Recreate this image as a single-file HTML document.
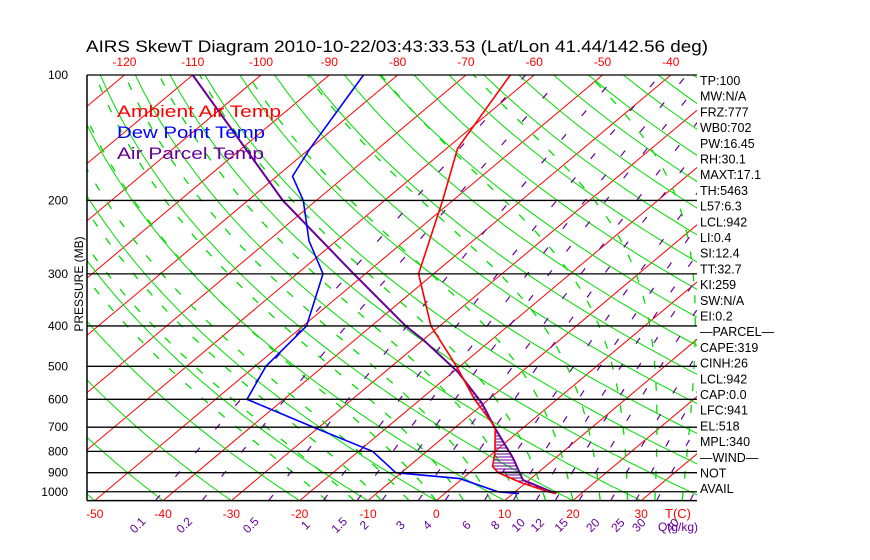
<!DOCTYPE html>
<html><head><meta charset="utf-8"><style>
html,body{margin:0;padding:0;background:#fff;}
svg{display:block;font-family:"Liberation Sans",sans-serif;}
</style></head><body>
<svg id="chart" width="870" height="560" viewBox="0 0 870 560" xmlns="http://www.w3.org/2000/svg">
<defs><clipPath id="plotclip"><rect x="87" y="75" width="610" height="426"/></clipPath></defs>
<rect x="0" y="0" width="870" height="560" fill="#fff"/>
<text x="86" y="52" font-size="17" textLength="622" lengthAdjust="spacingAndGlyphs" fill="#000">AIRS SkewT Diagram 2010-10-22/03:43:33.53 (Lat/Lon 41.44/142.56 deg)</text>
<g id="grid" clip-path="url(#plotclip)"></g>
<g id="marks" clip-path="url(#plotclip)"></g>
<g id="axes"></g>
<text transform="translate(83,284) rotate(-90)" text-anchor="middle" font-size="12" fill="#000">PRESSURE (MB)</text>
<g font-size="17">
<text x="117" y="117" fill="#ff0000" textLength="164" lengthAdjust="spacingAndGlyphs">Ambient Air Temp</text>
<text x="117" y="138" fill="#0000ff" textLength="148" lengthAdjust="spacingAndGlyphs">Dew Point Temp</text>
<text x="117" y="159" fill="#660099" textLength="147" lengthAdjust="spacingAndGlyphs">Air Parcel Temp</text>
</g>
<g id="indices" font-size="12.5" fill="#000"></g>
</svg>
<script>
// ---- data ----
const tempP = [1010,1000,950,900,870,800,700,600,500,400,300,200,150,100];
const tempT = [16.3,14.9,9.2,4.2,2.3,0.0,-4.2,-12.1,-20.5,-31.3,-42.2,-51.5,-58.4,-63.5];
const dewP = [1010,1000,930,900,800,700,600,500,400,300,250,200,175,150,100];
const dewT = [10.9,7.5,-0.4,-10.8,-17.9,-30.8,-45.4,-48.4,-49.5,-56.2,-64,-71.9,-77.7,-80,-85];
const parcelP = [1010,937,830,703,612,516,432,400,300,200,100];
const parcelT = [16.3,9.1,3.8,-4.1,-10.4,-19.3,-30.0,-35.0,-51.7,-74.9,-110];
const pressureTicks = [100,200,300,400,500,600,700,800,900,1000];
const topTempTicks = [-120,-110,-100,-90,-80,-70,-60,-50,-40];
const bottomTempTicks = [-50,-40,-30,-20,-10,0,10,20,30];
const mixRatios = [0.1,0.2,0.5,1,1.5,2,3,4,6,8,10,12,15,20,25,30,40];
const mixLabels = ["0.1","0.2","0.5","1","1.5","2","3","4","6","8","10","12","15","20","25","30","40"];
const indexLabels = ["TP:100","MW:N/A","FRZ:777","WB0:702","PW:16.45","RH:30.1","MAXT:17.1","TH:5463","L57:6.3","LCL:942","LI:0.4","SI:12.4","TT:32.7","KI:259","SW:N/A","EI:0.2","\u2014PARCEL\u2014","CAPE:319","CINH:26","LCL:942","CAP:0.0","LFC:941","EL:518","MPL:340","\u2014WIND\u2014","NOT","AVAIL"];

// ---- axes ----
const NS="http://www.w3.org/2000/svg";
const PBOT=1050, PTOP=100;
function yP(p){return 75+181*Math.log(p/100);}
function xT(T,p){return 437+6.83*T+1.193*(500-yP(p));}
function mk(tag,attrs,parent){const e=document.createElementNS(NS,tag);for(const k in attrs)e.setAttribute(k,attrs[k]);parent.appendChild(e);return e;}
const grid=document.getElementById('grid'), marks=document.getElementById('marks'), axes=document.getElementById('axes'), idx=document.getElementById('indices');
function pathFrom(pts){return pts.map((q,i)=>(i?'L':'M')+q[0].toFixed(1)+' '+q[1].toFixed(1)).join(' ');}

// isotherms
for(let T=-160;T<=50;T+=10){
  const el=mk('line',{x1:xT(T,PBOT),y1:yP(PBOT),x2:xT(T,PTOP),y2:yP(PTOP),stroke:'#ff0000','stroke-width':1},grid);
  
  
}
// dry adiabats
for(let th=-60;th<=200;th+=10){
  const theta=th+273.15, pts=[];
  for(let p=PBOT;p>=PTOP;p-=10){const T=theta*Math.pow(p/PBOT,0.286)-273.15;pts.push([xT(T,p),yP(p)]);}
  const el=mk('path',{d:pathFrom(pts),fill:'none',stroke:'#00dd00','stroke-width':1},grid);
  
  
}
// moist adiabats
function es(T){return 6.112*Math.exp(17.67*T/(T+243.5));}
for(let T0=-16;T0<=36;T0+=4){
  let T=T0+273.15; const pts=[];
  for(let p=PBOT;p>=PTOP;p-=5){
    pts.push([xT(T-273.15,p),yP(p)]);
    const e=es(T-273.15), rs=0.622*e/(p-e);
    const g=(287*T/p)*(1+2.5e6*rs/(287*T))/(1004+2.5e6*2.5e6*rs*0.622/(287*T*T));
    T-=g*5;
  }
  const el=mk('path',{d:pathFrom(pts),fill:'none',stroke:'#00dd00','stroke-width':1.3,'stroke-dasharray':'8 14'},grid);
  
  
}
// mixing ratio lines
function tdFromW(w,p){const e=w*p/(622+w);const l=Math.log(e/6.112);return 243.5*l/(17.67-l);}
mixRatios.forEach((w,i)=>{
  const pts=[];for(let p=PBOT;p>=PTOP;p-=10)pts.push([xT(tdFromW(w,p),p),yP(p)]);
  const el=mk('path',{d:pathFrom(pts),fill:'none',stroke:'#660099','stroke-width':1.2,'stroke-dasharray':'7 24'},grid);
  
  
  const x=xT(tdFromW(w,PBOT),PBOT)-15;
  const t=mk('text',{x:0,y:0,transform:`translate(${x.toFixed(1)},528) rotate(-45)`,'font-size':12,fill:'#660099','text-anchor':'middle'},axes);
  t.textContent=mixLabels[i];
  
  
});
// pressure lines
pressureTicks.forEach(p=>{
  const y=yP(p);
  const l=mk('line',{x1:87,y1:y,x2:697,y2:y,stroke:'#000','stroke-width':1.3},axes);
  
  
  const t=mk('text',{x:68,y:y+4,'text-anchor':'end','font-size':12,fill:'#000'},axes);
  t.textContent=p;
  
  
});
const bl=mk('line',{x1:87,y1:yP(PBOT),x2:697,y2:yP(PBOT),stroke:'#000','stroke-width':1.5},axes);


const lb=mk('line',{x1:87,y1:75,x2:87,y2:yP(PBOT),stroke:'#000','stroke-width':1.5},axes);


topTempTicks.forEach(T=>{
  const t=mk('text',{x:xT(T,PTOP),y:66,'text-anchor':'middle','font-size':12,fill:'#ff0000'},axes);
  t.textContent=T;
  
  
});
bottomTempTicks.forEach(T=>{
  const t=mk('text',{x:xT(T,PBOT),y:518,'text-anchor':'middle','font-size':12,fill:'#ff0000'},axes);
  t.textContent=T;
  
  
});
const tc=mk('text',{x:665,y:518,'font-size':13,fill:'#ff0000'},axes);
tc.textContent='T(C)';


const qg=mk('text',{x:658,y:531,'font-size':12,fill:'#660099'},axes);
qg.textContent='Q(g/kg)';



// profiles
function prof(P,T){return P.map((p,i)=>[xT(T[i],p),yP(p)]);}
const rp=prof(tempP,tempT), dp=prof(dewP,dewT), pp=prof(parcelP,parcelT);
function xAtY(pts,y){for(let i=0;i<pts.length-1;i++){const a=pts[i],b=pts[i+1];if((y<=a[1]&&y>=b[1])){const f=(a[1]-y)/(a[1]-b[1]||1);return a[0]+f*(b[0]-a[0]);}}return null;}
// hatching
for(let y=370;y<=490;y+=3){
  const xr=xAtY(rp,y), xp=xAtY(pp,y);
  if(xr!==null&&xp!==null&&xp>xr){
    const h=mk('line',{x1:xr,y1:y,x2:xp,y2:y,stroke:'#660099','stroke-width':1},marks);
    
    
  }
}
const pl=mk('path',{d:pathFrom(pp),fill:'none',stroke:'#660099','stroke-width':2},marks);


const dl=mk('path',{d:pathFrom(dp),fill:'none',stroke:'#0000ff','stroke-width':1.6},marks);


const tl=mk('path',{d:pathFrom(rp),fill:'none',stroke:'#ff0000','stroke-width':1.6},marks);



// indices
indexLabels.forEach((s,i)=>{
  const t=mk('text',{x:700,y:85+i*15.7},idx);
  t.textContent=s;
  
  
});
</script>
</body></html>
